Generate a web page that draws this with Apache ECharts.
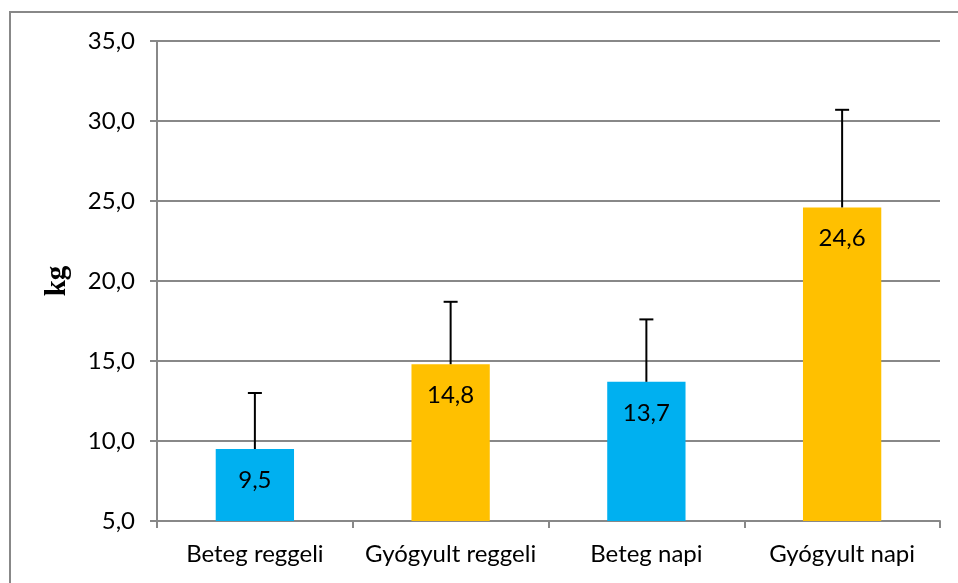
<!DOCTYPE html>
<html>
<head>
<meta charset="utf-8">
<script src="https://cdn.jsdelivr.net/npm/echarts@6/dist/echarts.min.js"></script>
<style>
html,body{margin:0;padding:0;background:#fff;}
#chart{width:958px;height:583px;}
</style>
</head>
<body>
<div id="chart"></div>
<script>
// Grip strength by group (kg): means with upper standard deviation
const categories = ['Beteg reggeli', 'Gyógyult reggeli', 'Beteg napi', 'Gyógyult napi'];
const means = [9.5, 14.8, 13.7, 24.6];
const sd = [3.5, 3.9, 3.9, 6.1];
const barColors = ['#00B0F0', '#FFC000', '#00B0F0', '#FFC000'];
const yTicks = [5, 10, 15, 20, 25, 30, 35];

const chart = echarts.init(document.getElementById('chart'));
const fontFam = 'Lato, "Open Sans", sans-serif';

const barData = means.map((v, i) => ({ value: v, itemStyle: { color: barColors[i] } }));
const errData = means.map((v, i) => [i, v, v + sd[i]]);

chart.setOption({
  animation: false,
  backgroundColor: '#fff',
  graphic: [{
    type: 'rect',
    shape: { x: 10, y: 12, width: 1000, height: 700 },
    style: { fill: 'none', stroke: '#888', lineWidth: 2 },
    silent: true, z: -1
  }],
  grid: { left: 157, right: 18, top: 41, bottom: 62 },
  xAxis: {
    type: 'category',
    data: categories,
    axisLine: { lineStyle: { color: '#888', width: 2 } },
    axisTick: { show: true, interval: 0, length: 7, alignWithLabel: false, lineStyle: { color: '#888', width: 2 } },
    axisLabel: { interval: 0, color: '#000', fontSize: 24, fontFamily: fontFam, margin: 21 }
  },
  yAxis: {
    type: 'value',
    min: yTicks[0],
    max: yTicks[yTicks.length - 1],
    interval: 5,
    name: 'kg',
    nameLocation: 'middle',
    nameGap: 85,
    nameRotate: 90,
    nameTextStyle: { fontFamily: '"Liberation Serif", serif', fontWeight: 'bold', fontSize: 29, color: '#000' },
    axisLine: { show: true, lineStyle: { color: '#888', width: 2 } },
    axisTick: { show: true, length: 7, lineStyle: { color: '#888', width: 2 } },
    splitLine: { lineStyle: { color: '#888', width: 2 } },
    axisLabel: {
      color: '#000', fontSize: 24, fontFamily: fontFam, margin: 22,
      formatter: v => v.toFixed(1).replace('.', ',')
    }
  },
  series: [
    {
      type: 'bar',
      data: barData,
      barWidth: '40%',
      z: 2,
      label: {
        show: true,
        position: 'insideTop',
        distance: 19,
        color: '#000',
        fontSize: 24,
        fontFamily: fontFam,
        formatter: p => p.value.toFixed(1).replace('.', ',')
      }
    },
    {
      type: 'custom',
      data: errData,
      z: 3,
      renderItem: (params, api) => {
        const x = api.value(0);
        const low = api.coord([x, api.value(1)]);
        const high = api.coord([x, api.value(2)]);
        const cap = 7;
        const style = { stroke: '#000', lineWidth: 2 };
        return {
          type: 'group',
          children: [
            { type: 'line', shape: { x1: low[0], y1: low[1], x2: high[0], y2: high[1] }, style },
            { type: 'line', shape: { x1: high[0] - cap, y1: high[1], x2: high[0] + cap, y2: high[1] }, style }
          ]
        };
      }
    }
  ]
});
</script>
</body>
</html>
